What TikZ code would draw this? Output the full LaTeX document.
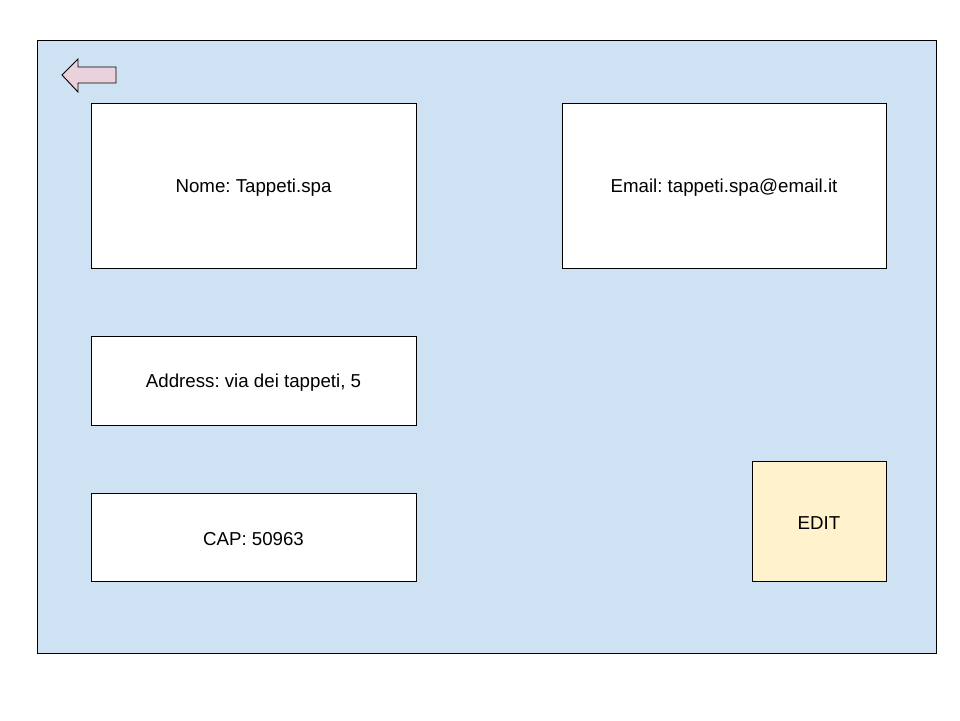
\documentclass[tikz,border=0pt]{standalone}
\usepackage{fontspec}
\setmainfont{Liberation Sans}
\frenchspacing
\definecolor{bgblue}{HTML}{CFE2F3}
\definecolor{edityellow}{HTML}{FFF2CC}
\definecolor{arrowpink}{HTML}{EAD1DC}
\begin{document}
\begin{tikzpicture}[x=1pt,y=-1pt,
  field/.style={draw=black,fill=white,line width=0.9pt},
  label/.style={font=\fontsize{18.7}{22}\selectfont\frenchspacing,yshift=-2pt},
  frame/.style={draw=black,fill=bgblue,line width=0.9pt}]
\useasboundingbox (0,0) rectangle (960,720);
\draw[frame] (37,40) rectangle (936,653);
\draw[draw=black,fill=arrowpink,line width=0.9pt] (62,75) -- (78,59) -- (78,67) -- (116,67) -- (116,83) -- (78,83) -- (78,92) -- cycle;
\draw[field] (91,103) rectangle node[label] (nome) {Nome: Tappeti.spa} (416,268);
\draw[field] (562,103) rectangle node[label] (email) {Email: tappeti.spa@email.it} (886,268);
\draw[field] (91,336) rectangle node[label] (addr) {Address: via dei tappeti, 5} (416,425);
\draw[field] (91,493) rectangle node[label] (cap) {CAP: 50963} (416,581);
\draw[field,fill=edityellow] (752,461) rectangle node[label] (edit) {EDIT} (886,581);
\end{tikzpicture}
\end{document}
